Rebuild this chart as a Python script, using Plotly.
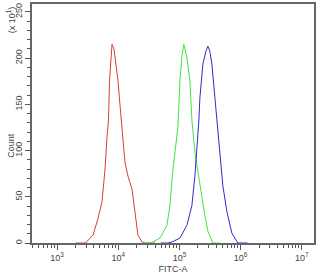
import plotly.graph_objects as go

# FITC-A intensities and counts (x10^1)
red_x = [2000, 2900, 3870, 4670, 5430, 6080, 6550, 6930, 7200, 7620, 7910, 8530, 9190,
         9910, 10690, 11510, 11960, 12890, 14430, 16760, 18760, 21000, 24430, 27330, 40000]
red_y = [0, 0, 8.5, 26.6, 44.7, 79.8, 114.9, 133, 175.5, 207.4, 214.9, 209.6, 191.5,
         175.5, 148.9, 127.7, 111.7, 87.2, 72.3, 58.5, 34, 8.5, 1.1, 0, 0]

green_x = [25000, 32980, 36900, 48060, 62520, 69970, 78300, 91000, 94570, 101900, 109900,
           118400, 122900, 132500, 148300, 159800, 179000, 216200, 260800, 291900, 352300, 450000]
green_y = [0, 0, 1.1, 5.3, 19.1, 40.4, 79.8, 114.9, 125.5, 175.5, 202.1,
           214.9, 209.6, 200, 175.5, 133, 97.9, 61.7, 29.8, 12.8, 0, 0]

blue_x = [50000, 64890, 75430, 101900, 132500, 159800, 179000, 193000, 208100, 216200, 242000,
          270900, 291900, 314600, 339500, 380000, 409300, 458300, 513200, 596800, 719500,
          901500, 1047000, 1300000]
blue_y = [0, 0, 1.1, 5.3, 19.1, 40.4, 72.3, 97.9, 133, 157.4, 193.6,
          207.4, 212.8, 207.4, 193.6, 157.4, 133, 97.9, 61.7, 34, 10.6,
          0, 0, 0]

x_major = [1e3, 1e4, 1e5, 1e6, 1e7]
x_labels = ["10<sup>3</sup>", "10<sup>4</sup>", "10<sup>5</sup>", "10<sup>6</sup>", "10<sup>7</sup>"]
x_minor = [m * 10 ** e for e in range(2, 7) for m in range(2, 10)]
y_major = [0, 50, 100, 150, 200, 250]
y_minor = list(range(0, 260, 10))

fig = go.Figure()
for xs, ys, col in [(red_x, red_y, "rgb(220,60,60)"),
                    (green_x, green_y, "rgb(70,225,70)"),
                    (blue_x, blue_y, "rgb(45,45,205)")]:
    fig.add_trace(go.Scatter(x=xs, y=ys, mode="lines",
                             line=dict(color=col, width=1), hoverinfo="skip"))

axis_font = dict(family="Liberation Sans, Arial, sans-serif", size=9, color="#444")

fig.update_layout(
    width=319, height=275,
    margin=dict(l=32, r=5, t=2, b=30),
    paper_bgcolor="white", plot_bgcolor="white",
    showlegend=False,
    font=axis_font,
    xaxis=dict(type="log", range=[2.59, 7.2],
               tickmode="array", tickvals=x_major, ticktext=x_labels,
               ticks="outside", ticklen=5, tickcolor="#555", tickwidth=1,
               minor=dict(tickmode="array", tickvals=x_minor, ticks="outside",
                          ticklen=3, tickcolor="#555", tickwidth=1, showgrid=False),
               showgrid=False, zeroline=False,
               showline=True, linecolor="#666", linewidth=1.5, mirror=True,
               tickfont=axis_font,
               title=dict(text="FITC-A", font=axis_font, standoff=4)),
    yaxis=dict(range=[0, 258.5],
               tickmode="array", tickvals=y_major,
               ticks="outside", ticklen=5, tickcolor="#555", tickwidth=1,
               minor=dict(tickmode="array", tickvals=y_minor, ticks="outside",
                          ticklen=3, tickcolor="#555", tickwidth=1, showgrid=False),
               tickangle=-90,
               showgrid=False, zeroline=False,
               showline=True, linecolor="#666", linewidth=1.5, mirror=True,
               tickfont=axis_font),
)

fig.add_annotation(text="Count", xref="paper", yref="paper", x=-0.075, y=0.41,
                   xanchor="center", yanchor="middle", textangle=-90,
                   showarrow=False, font=axis_font)
fig.add_annotation(text="(x 10<sup>1</sup>)", xref="paper", yref="paper", x=-0.075, y=1.0,
                   xanchor="center", yanchor="top", textangle=-90,
                   showarrow=False, font=axis_font)

fig.write_html("out.html")
